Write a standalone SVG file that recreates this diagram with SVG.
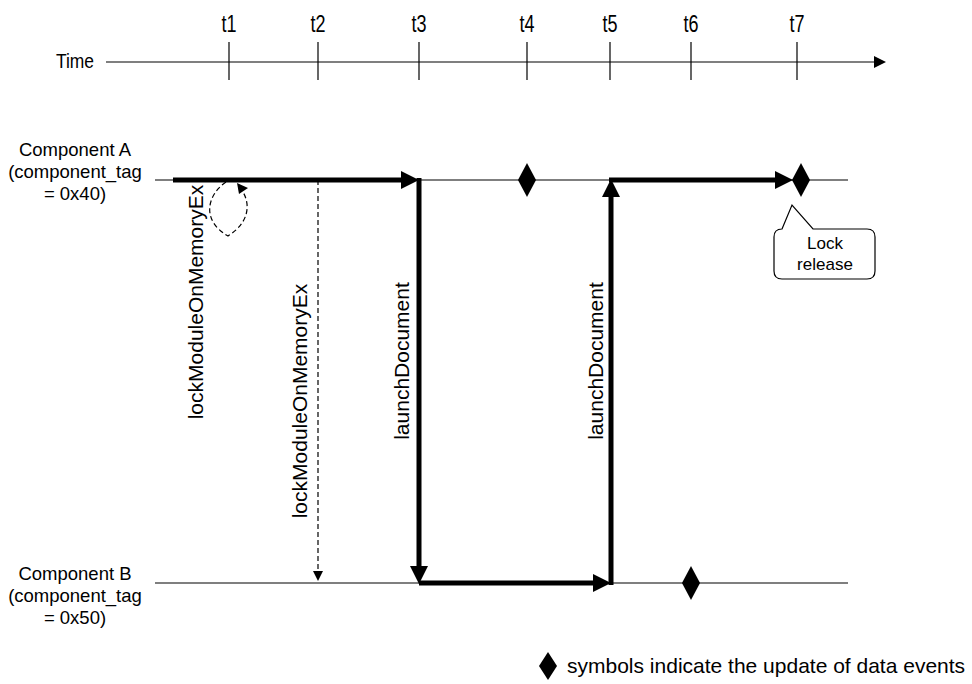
<svg xmlns="http://www.w3.org/2000/svg" width="972" height="684" viewBox="0 0 972 684">
  <style>
    text { font-family: "Liberation Sans", Arial, sans-serif; fill: #000; }
    .thin { stroke: #000; stroke-width: 1.2; fill: none; }
    .thick { stroke: #000; stroke-width: 5; fill: none; }
    .dash { stroke: #000; stroke-width: 1.2; fill: none; stroke-dasharray: 5 3; }
    .head { fill: #000; }
    .lbl { font-size: 18.5px; text-anchor: middle; }
    .tick { font-size: 24px; text-anchor: middle; }
    .call { font-size: 21px; text-anchor: middle; }
  </style>
  <defs>
    <polygon id="diamond" points="0,-17 9,0 0,17 -9,0" fill="#000"/>
  </defs>

  <!-- time axis -->
  <g id="time-axis">
    <text class="lbl" transform="translate(75,68) scale(0.85,1)" style="font-size:20.5px">Time</text>
    <line x1="106" y1="62" x2="876" y2="62" class="thin"/>
    <polygon points="874,56 886,62 874,68" class="head"/>
    <g class="thin">
      <line x1="229" y1="42" x2="229" y2="80"/>
      <line x1="318" y1="42" x2="318" y2="80"/>
      <line x1="419" y1="42" x2="419" y2="80"/>
      <line x1="527" y1="42" x2="527" y2="80"/>
      <line x1="610" y1="42" x2="610" y2="80"/>
      <line x1="691" y1="42" x2="691" y2="80"/>
      <line x1="797" y1="42" x2="797" y2="80"/>
    </g>
    <text class="tick" transform="translate(229,32) scale(0.75,1)">t1</text>
    <text class="tick" transform="translate(318,32) scale(0.75,1)">t2</text>
    <text class="tick" transform="translate(419,32) scale(0.75,1)">t3</text>
    <text class="tick" transform="translate(527,32) scale(0.75,1)">t4</text>
    <text class="tick" transform="translate(610,32) scale(0.75,1)">t5</text>
    <text class="tick" transform="translate(691,32) scale(0.75,1)">t6</text>
    <text class="tick" transform="translate(797,32) scale(0.75,1)">t7</text>
  </g>

  <!-- component A lifeline -->
  <g id="component-a">
    <text class="lbl" x="75" y="156">Component A</text>
    <text class="lbl" x="75" y="178">(component_tag</text>
    <text class="lbl" x="75" y="200">= 0x40)</text>
    <line x1="155" y1="180" x2="848" y2="180" class="thin"/>
  </g>

  <!-- component B lifeline -->
  <g id="component-b">
    <text class="lbl" x="75" y="580">Component B</text>
    <text class="lbl" x="75" y="602">(component_tag</text>
    <text class="lbl" x="75" y="624">= 0x50)</text>
    <line x1="155" y1="583" x2="848" y2="583" class="thin"/>
  </g>

  <!-- calls and control flow -->
  <g id="connectors">
    <!-- A active until t3 -->
    <line x1="173" y1="180" x2="404" y2="180" class="thick"/>
    <polygon points="401,171 419,180 401,189" class="head"/>
    <!-- self call at t1 -->
    <path d="M226,182 C208,194 200,220 228,236 C250,222 250,204 243,192" class="dash"/>
    <polygon points="237,183 248,188 239,194" class="head"/>
    <!-- call to B at t2 -->
    <line x1="318" y1="180" x2="318" y2="572" class="dash"/>
    <polygon points="313,571 318,581 323,571" class="head"/>
    <!-- launchDocument A -> B at t3 -->
    <line x1="419" y1="178" x2="419" y2="568" class="thick"/>
    <polygon points="410,566 419,584 428,566" class="head"/>
    <!-- B active t3..t5 -->
    <line x1="419" y1="583" x2="596" y2="583" class="thick"/>
    <polygon points="593,574 611,583 593,592" class="head"/>
    <!-- launchDocument B -> A at t5 -->
    <line x1="611" y1="585" x2="611" y2="195" class="thick"/>
    <polygon points="602,197 611,179 620,197" class="head"/>
    <!-- A active t5..t7 -->
    <line x1="609" y1="180" x2="778" y2="180" class="thick"/>
    <polygon points="775,171 793,180 775,189" class="head"/>
  </g>

  <!-- call labels -->
  <g id="call-labels">
    <text class="call" transform="translate(203,302) rotate(-90)">lockModuleOnMemoryEx</text>
    <text class="call" transform="translate(307,401) rotate(-90)">lockModuleOnMemoryEx</text>
    <text class="call" transform="translate(409,361) rotate(-90)">launchDocument</text>
    <text class="call" transform="translate(603,361) rotate(-90)">launchDocument</text>
  </g>

  <!-- data update events -->
  <g id="events">
    <use href="#diamond" x="527" y="180"/>
    <use href="#diamond" x="801" y="180"/>
    <use href="#diamond" x="691" y="583"/>
  </g>

  <!-- lock release callout -->
  <g id="lock-release">
    <path d="M782,229 L792,205 L813,229 L867,229 Q875,229 875,237 L875,271 Q875,279 867,279 L782,279 Q774,279 774,271 L774,237 Q774,229 782,229 Z" fill="#fff" stroke="#000" stroke-width="1.2"/>
    <text class="lbl" x="825" y="249" style="font-size:17px">Lock</text>
    <text class="lbl" x="825" y="270" style="font-size:17px">release</text>
  </g>

  <!-- legend -->
  <g id="legend">
    <polygon points="548,652 557,666 548,680 539,666" fill="#000"/>
    <text x="567" y="673" style="font-size:21px">symbols indicate the update of data events</text>
  </g>
</svg>
